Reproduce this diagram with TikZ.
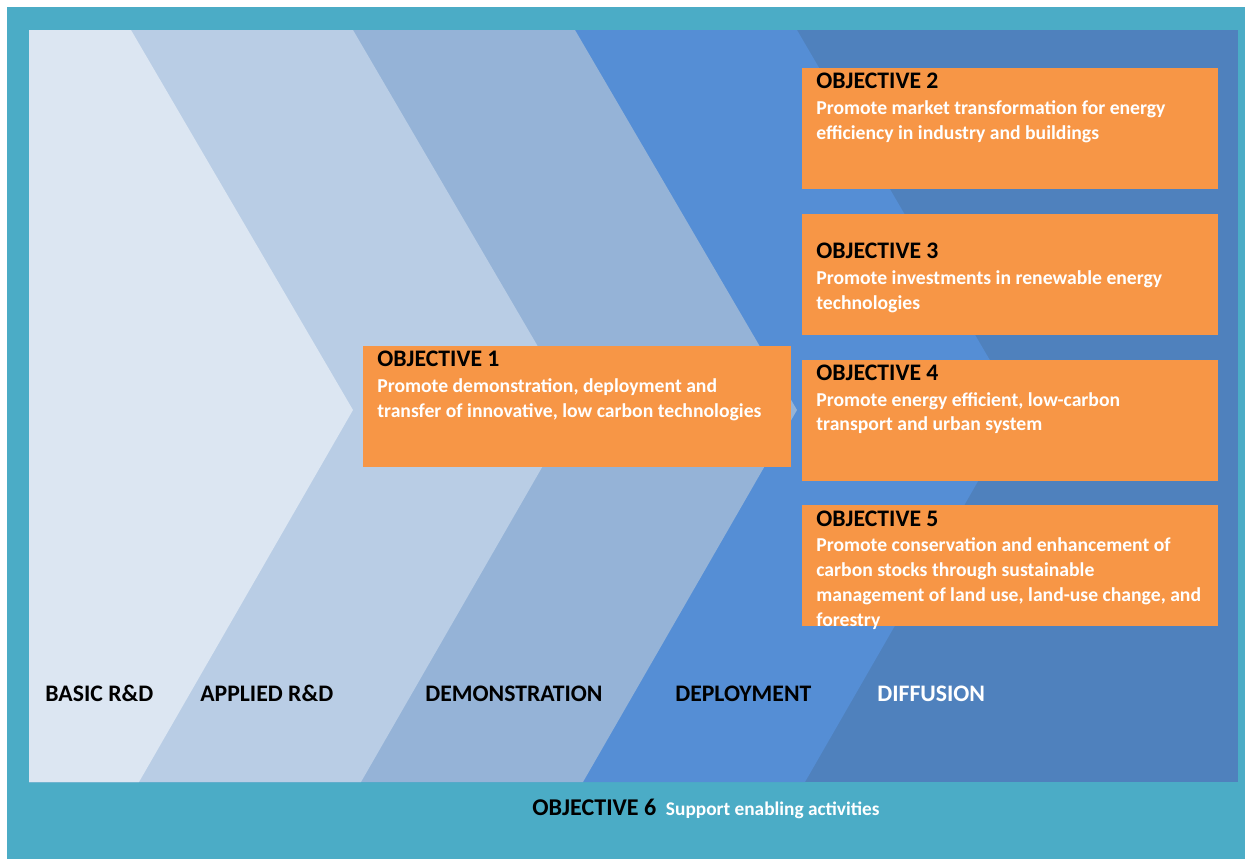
\documentclass[tikz,border=0pt]{standalone}
\usepackage{fontspec}
\setmainfont{Carlito}
\usetikzlibrary{positioning}

\definecolor{frameteal}{HTML}{4BACC6}
\definecolor{bandA}{HTML}{DCE6F2}
\definecolor{bandB}{HTML}{B9CDE5}
\definecolor{bandC}{HTML}{95B3D7}
\definecolor{bandD}{HTML}{558ED5}
\definecolor{bandE}{HTML}{4F81BD}
\definecolor{objorange}{HTML}{F79646}

\begin{document}
\begin{tikzpicture}[
    x=0.02cm, y=-0.02cm,
    font=\bfseries,
    objbox/.style={
        rectangle,
        fill=objorange,
        inner sep=0pt,
        anchor=north west
    },
    objtitle/.style={
        font=\fontsize{13.5}{14}\selectfont\bfseries,
        text=black,
        anchor=north west,
        inner sep=0pt
    },
    objtext/.style={
        font=\fontsize{11.2}{14.2}\selectfont\bfseries,
        text=white,
        anchor=north west,
        align=left,
        inner sep=0pt
    },
    stage/.style={
        font=\fontsize{13.5}{14}\selectfont\bfseries,
        anchor=base west,
        inner sep=0pt
    }
]
    \useasboundingbox (0,0) rectangle (1245,859);

    % Teal frame
    \fill[frameteal] (7,7) rectangle (1245,859);

    % Chevron bands (222px apart)
    \fill[bandE] (29,30) rectangle (1238,782);
    \fill[bandD] (29,30) -- (797,30) -- (1019,410) -- (805,782) -- (29,782) -- cycle;
    \fill[bandC] (29,30) -- (575,30) -- (797,410) -- (583,782) -- (29,782) -- cycle;
    \fill[bandB] (29,30) -- (353,30) -- (575,410) -- (361,782) -- (29,782) -- cycle;
    \fill[bandA] (29,30) -- (131,30) -- (353,410) -- (139,782) -- (29,782) -- cycle;

    % Objective boxes
    \node[objbox, minimum width=428*0.02cm, minimum height=121*0.02cm] (obj1) at (363,346) {};
    \node[objbox, minimum width=416*0.02cm, minimum height=121*0.02cm] (obj2) at (802,68) {};
    \node[objbox, minimum width=416*0.02cm, minimum height=121*0.02cm, below=24*0.02cm of obj2.south west, anchor=north west] (obj3) {};
    \node[objbox, minimum width=416*0.02cm, minimum height=121*0.02cm, below=24*0.02cm of obj3.south west, anchor=north west] (obj4) {};
    \node[objbox, minimum width=416*0.02cm, minimum height=121*0.02cm, below=24*0.02cm of obj4.south west, anchor=north west] (obj5) {};

    % Objective texts
    \node[objtitle] (t1) at ([xshift=14*0.02cm, yshift=-5*0.02cm]obj1.north west) {OBJECTIVE 1};
    \node[objtext, below=11*0.02cm of t1.south west, anchor=north west] {Promote demonstration, deployment and\\transfer of innovative, low carbon technologies};

    \node[objtitle] (t2) at ([xshift=14*0.02cm, yshift=-5*0.02cm]obj2.north west) {OBJECTIVE 2};
    \node[objtext, below=11*0.02cm of t2.south west, anchor=north west] {Promote market transformation for energy\\efficiency in industry and buildings};

    \node[objtitle] (t3) at ([xshift=14*0.02cm, yshift=-29*0.02cm]obj3.north west) {OBJECTIVE 3};
    \node[objtext, below=11*0.02cm of t3.south west, anchor=north west] {Promote investments in renewable energy\\technologies};

    \node[objtitle] (t4) at ([xshift=14*0.02cm, yshift=-5*0.02cm]obj4.north west) {OBJECTIVE 4};
    \node[objtext, below=11*0.02cm of t4.south west, anchor=north west] {Promote energy efficient, low-carbon\\transport and urban system};

    \node[objtitle] (t5) at ([xshift=14*0.02cm, yshift=-5*0.02cm]obj5.north west) {OBJECTIVE 5};
    \node[objtext, below=11*0.02cm of t5.south west, anchor=north west] {Promote conservation and enhancement of\\carbon stocks through sustainable\\management of land use, land-use change, and\\forestry};

    % Stage labels
    \node[stage] (basic) at (45,701) {BASIC R\&D};
    \node[stage] (applied) at (200,701) {APPLIED R\&D};
    \node[stage] (demo) at (425,701) {DEMONSTRATION};
    \node[stage] (deploy) at (675,701) {DEPLOYMENT};
    \node[stage, text=white] (diffuse) at (877,701) {DIFFUSION};

    % Objective 6 in the frame
    \node[stage, font=\fontsize{13.7}{14}\selectfont\bfseries] (obj6) at (532,815) {OBJECTIVE 6};
    \node[stage, font=\fontsize{11}{12}\selectfont\bfseries, text=white, right=9*0.02cm of obj6.base east, anchor=base west] (obj6text) {Support enabling activities};
\end{tikzpicture}
\end{document}
